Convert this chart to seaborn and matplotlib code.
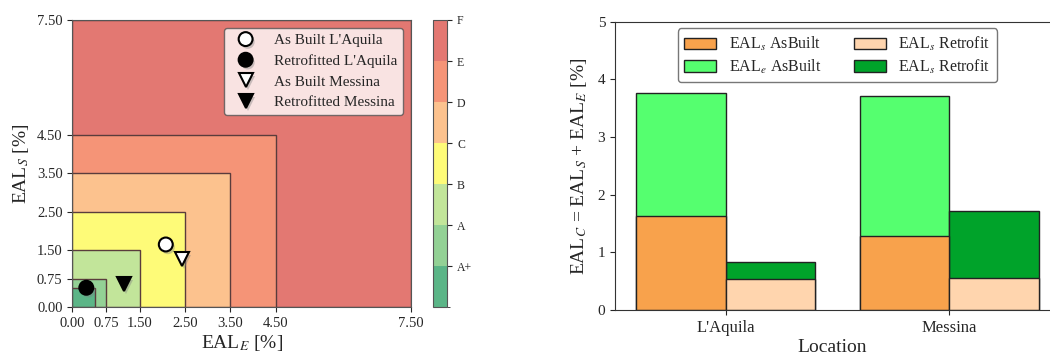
import numpy as np
import pandas as pd
import matplotlib
matplotlib.use("Agg")
import matplotlib.pyplot as plt
import matplotlib.patheffects as pe
from matplotlib.colors import ListedColormap, BoundaryNorm
from matplotlib.patches import Rectangle, Patch
import matplotlib.cm as cm
import seaborn as sns

# ---- data ----
class_labels = ["A+", "A", "B", "C", "D", "E", "F"]
class_limits = [0.50, 0.75, 1.50, 2.50, 3.50, 4.50, 7.50]
class_colors = ["#5bb587", "#93d195", "#c2e59a", "#fefb78", "#fcc28e", "#f59477", "#e37872"]
axis_ticks = [0.00, 0.75, 1.50, 2.50, 3.50, 4.50, 7.50]

point_names = ["As Built L'Aquila", "Retrofitted L'Aquila", "As Built Messina", "Retrofitted Messina"]
point_eal_e = [2.07, 0.31, 2.42, 1.15]
point_eal_s = [1.64, 0.51, 1.25, 0.61]

locations = ["L'Aquila", "Messina"]
eal_s_asbuilt = [1.63, 1.28]
eal_e_asbuilt = [2.14, 2.44]
eal_s_retrofit = [0.53, 0.56]
eal_e_retrofit = [0.31, 1.15]

sns.set_style("ticks")
plt.rcParams["font.family"] = ["Liberation Serif", "DejaVu Serif"]
plt.rcParams["mathtext.fontset"] = "stix"

W, H = 1050, 354
fig = plt.figure(figsize=(W / 100, H / 100), dpi=100)

def box(l, t, r, b):
    return [l / W, 1 - b / H, (r - l) / W, (b - t) / H]

# ---- left: classification chart ----
ax1 = fig.add_axes(box(72.3, 20, 411, 307.3))
for lim, col in reversed(list(zip(class_limits, class_colors))):
    ax1.add_patch(Rectangle((0, 0), lim, lim, facecolor=col, edgecolor="#5a3c3c",
                            linewidth=1.0, zorder=1))
ax1.set_xlim(0, 7.5)
ax1.set_ylim(0, 7.5)
ax1.set_xticks(axis_ticks)
ax1.set_yticks(axis_ticks)
ax1.set_xticklabels([f"{t:.2f}" for t in axis_ticks], fontsize=10.5)
ax1.set_yticklabels([f"{t:.2f}" for t in axis_ticks], fontsize=10.5)
ax1.set_xlabel("EAL$_E$ [%]", fontsize=14, labelpad=2)
ax1.set_ylabel("EAL$_S$ [%]", fontsize=14, labelpad=4)
for s in ax1.spines.values():
    s.set_color("#555555")

markers = ["o", "o", "v", "v"]
faces = ["white", "black", "white", "black"]
shadow = [pe.SimplePatchShadow(offset=(1.5, -2), shadow_rgbFace="gray", alpha=0.4), pe.Normal()]
for name, xe, ys, m, fc in zip(point_names, point_eal_e, point_eal_s, markers, faces):
    ax1.plot([xe], [ys], linestyle="none", marker=m, markersize=10, markerfacecolor=fc,
             markeredgecolor="black", markeredgewidth=1.5, label=name, zorder=5,
             path_effects=shadow)
leg1 = ax1.legend(loc="upper right", fontsize=11, frameon=True, facecolor="white",
                  framealpha=0.8, edgecolor="#555555", handletextpad=0.85,
                  borderaxespad=0.5, labelspacing=0.45)

# colorbar
cax = fig.add_axes(box(432.7, 20, 447.3, 307.3))
cmap = ListedColormap(class_colors)
norm = BoundaryNorm(np.arange(0, len(class_labels) + 1), cmap.N)
cb = fig.colorbar(cm.ScalarMappable(norm=norm, cmap=cmap), cax=cax,
                  ticks=np.arange(1, len(class_labels) + 1))
cb.set_ticklabels(class_labels)
cb.ax.tick_params(labelsize=8.5)
cb.outline.set_edgecolor("#555555")

# ---- right: stacked bars ----
ax2 = fig.add_axes(box(615, 21.7, 1050, 310))
df_tot = pd.DataFrame({
    "Location": locations * 2,
    "State": ["AsBuilt"] * 2 + ["Retrofit"] * 2,
    "Total": [s + e for s, e in zip(eal_s_asbuilt, eal_e_asbuilt)]
             + [s + e for s, e in zip(eal_s_retrofit, eal_e_retrofit)],
    "S": eal_s_asbuilt + eal_s_retrofit,
})
c_s_ab, c_e_ab, c_s_rf, c_e_rf = "#f8a24c", "#55ff6f", "#ffd5ae", "#00a32a"
sns.barplot(data=df_tot, x="Location", y="Total", hue="State",
            palette={"AsBuilt": c_e_ab, "Retrofit": c_e_rf}, edgecolor="#222222",
            linewidth=1.0, ax=ax2, legend=False, saturation=1, width=0.8)
sns.barplot(data=df_tot, x="Location", y="S", hue="State",
            palette={"AsBuilt": c_s_ab, "Retrofit": c_s_rf}, edgecolor="#222222",
            linewidth=1.0, ax=ax2, legend=False, saturation=1, width=0.8)
ax2.set_xlim(-0.495, 1.45)
ax2.set_ylim(0, 5)
ax2.set_yticks([0, 1, 2, 3, 4, 5])
ax2.tick_params(axis="y", labelsize=11)
ax2.tick_params(axis="x", labelsize=12)
ax2.set_xlabel("Location", fontsize=14, labelpad=2)
ax2.set_ylabel("EAL$_C$ = EAL$_S$ + EAL$_E$ [%]", fontsize=14, labelpad=6)
ax2.spines["right"].set_visible(False)
ax2.spines["top"].set_visible(True)
for s in ax2.spines.values():
    s.set_color("#333333")
handles = [Patch(facecolor=c_s_ab, edgecolor="#222222", label="EAL$_s$ AsBuilt"),
           Patch(facecolor=c_e_ab, edgecolor="#222222", label="EAL$_e$ AsBuilt"),
           Patch(facecolor=c_s_rf, edgecolor="#222222", label="EAL$_s$ Retrofit"),
           Patch(facecolor=c_e_rf, edgecolor="#222222", label="EAL$_s$ Retrofit")]
ax2.legend(handles=handles, loc="upper center", bbox_to_anchor=(0.511, 0.977), ncol=2,
           fontsize=11.5, frameon=True, edgecolor="#555555", handlelength=2.0,
           handletextpad=0.8, columnspacing=2.0, labelspacing=0.3, borderaxespad=0)

fig.savefig("out.png", dpi=100)
